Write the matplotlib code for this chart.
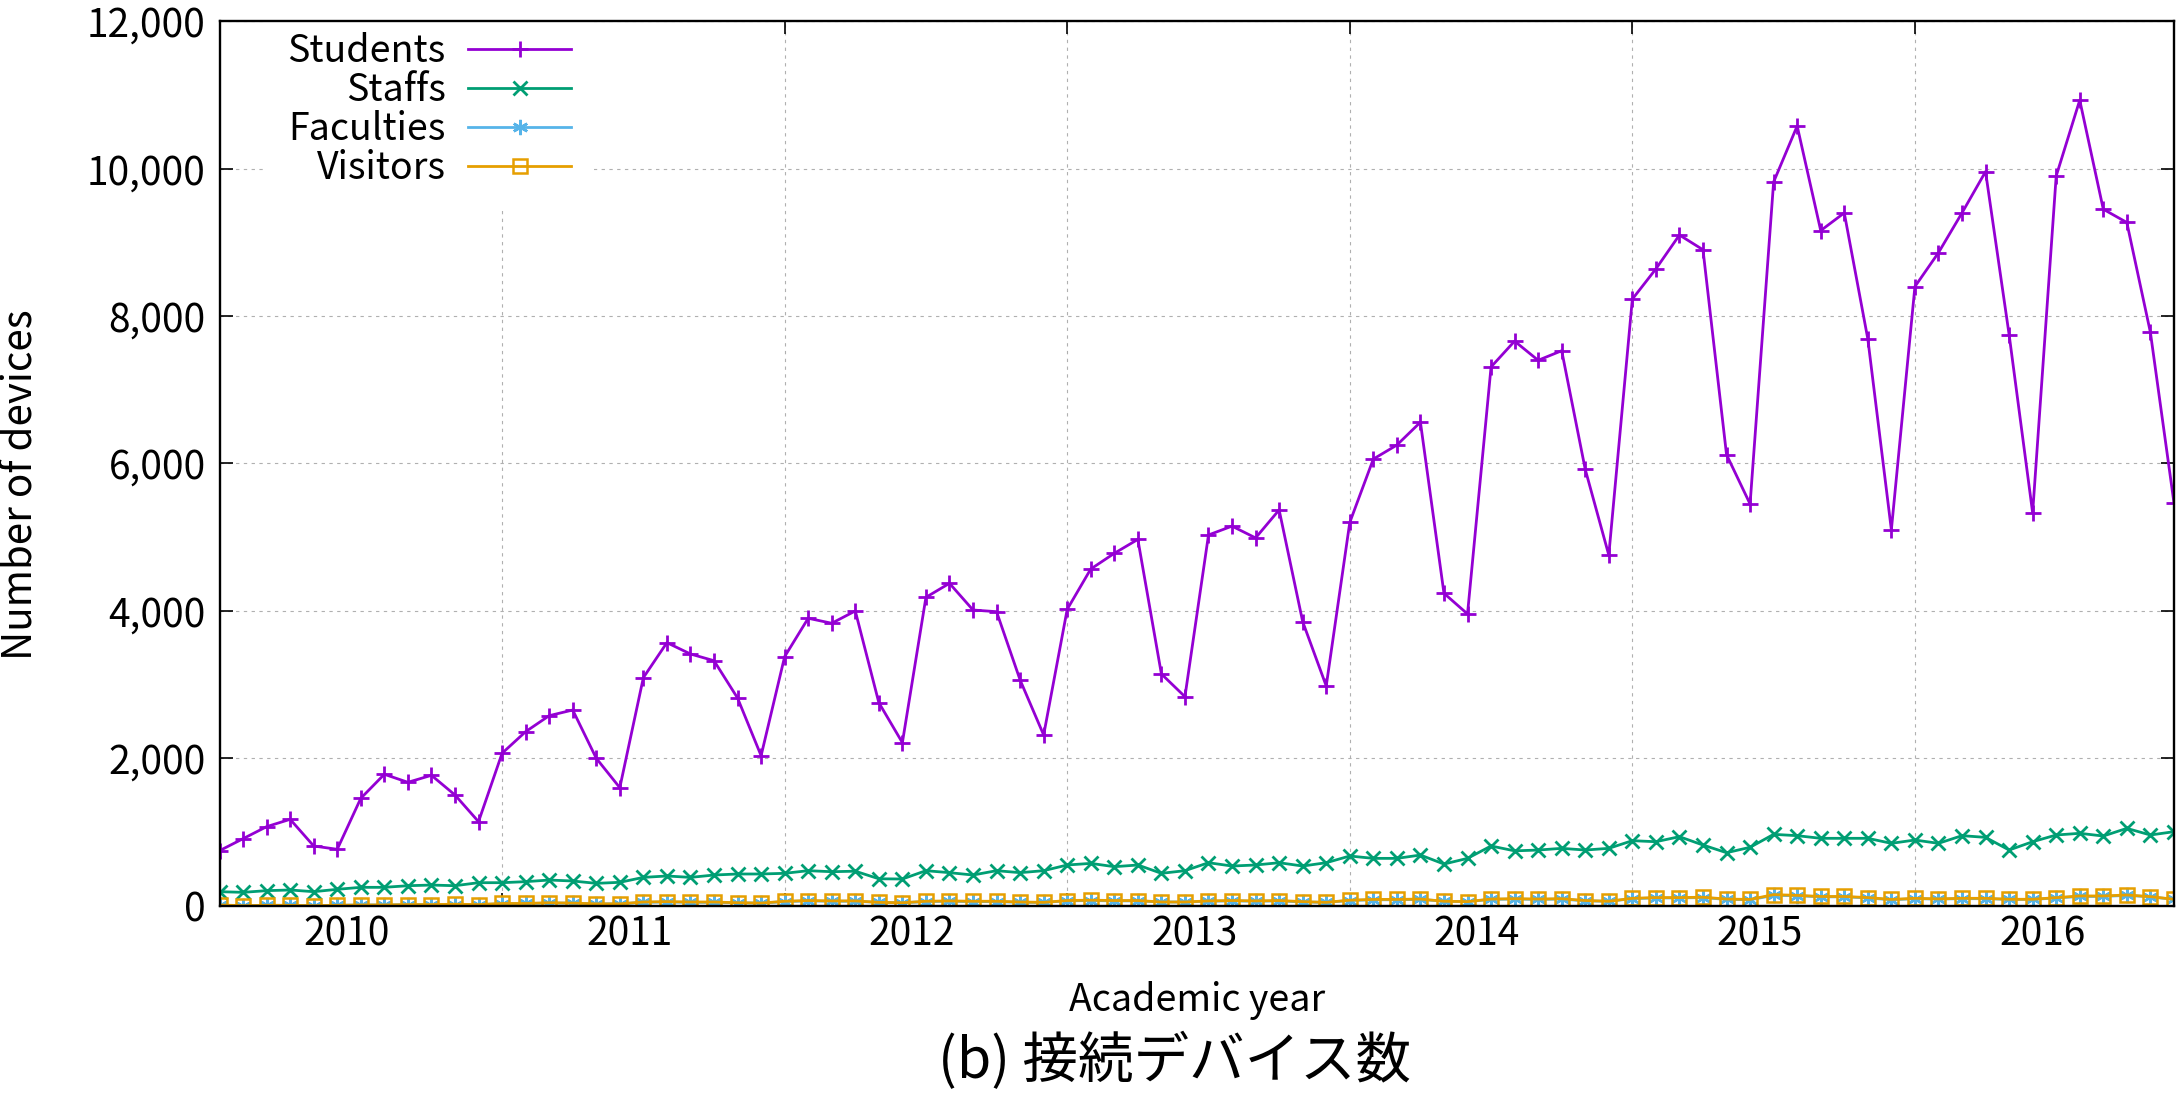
import matplotlib
matplotlib.use("Agg")
import matplotlib.pyplot as plt
import numpy as np
from matplotlib.ticker import FixedLocator, FixedFormatter, NullFormatter, StrMethodFormatter

plt.rcParams['font.family'] = ['Noto Sans CJK JP', 'DejaVu Sans']

# monthly values, 84 months (academic years 2010-2016)
years = ['2010', '2011', '2012', '2013', '2014', '2015', '2016']

students = [746, 909, 1072, 1172, 810, 765, 1457, 1783, 1674, 1769, 1502, 1140,
            2068, 2361, 2578, 2655, 2000, 1601, 3094, 3569, 3415, 3324, 2818, 2035,
            3379, 3900, 3832, 3999, 2755, 2212, 4184, 4374, 4012, 3989, 3062, 2316,
            4021, 4568, 4781, 4970, 3144, 2836, 5030, 5150, 4990, 5370, 3854, 2981,
            5200, 6060, 6250, 6560, 4239, 3958, 7310, 7660, 7400, 7530, 5920, 4757,
            8230, 8640, 9100, 8900, 6120, 5450, 9820, 10580, 9160, 9400, 7690, 5100,
            8400, 8860, 9400, 9960, 7750, 5330, 9900, 10930, 9450, 9270, 7780, 5470]

staffs = [190, 181, 204, 213, 190, 222, 249, 249, 271, 280, 271, 312,
          312, 326, 348, 335, 303, 317, 384, 403, 384, 416, 430, 430,
          439, 475, 461, 468, 365, 362, 475, 448, 416, 475, 448, 475,
          552, 574, 529, 552, 439, 475, 583, 538, 552, 583, 538, 583,
          674, 642, 642, 687, 565, 642, 810, 744, 755, 778, 755, 778,
          882, 868, 936, 823, 719, 792, 968, 950, 914, 914, 914, 846,
          891, 846, 950, 927, 755, 868, 959, 982, 945, 1049, 959, 1004]

faculties = [5, 0, 5, 5, 0, 5, 10, 10, 15, 15, 15, 15,
             25, 30, 35, 35, 25, 25, 45, 50, 45, 45, 40, 35,
             55, 65, 60, 60, 45, 40, 55, 60, 55, 55, 45, 45,
             65, 70, 65, 65, 50, 50, 60, 65, 60, 65, 50, 45,
             70, 80, 80, 85, 60, 55, 85, 90, 85, 90, 65, 60,
             95, 105, 105, 110, 85, 80, 140, 135, 120, 120, 105, 80,
             95, 90, 95, 95, 85, 85, 105, 125, 125, 140, 120, 85]

visitors = [10, 0, 5, 5, 0, 5, 10, 10, 15, 15, 20, 15,
            30, 30, 40, 35, 25, 25, 50, 55, 50, 50, 40, 35,
            60, 70, 65, 65, 45, 40, 60, 65, 60, 60, 50, 45,
            70, 75, 70, 70, 50, 50, 65, 70, 65, 70, 55, 45,
            75, 85, 85, 90, 60, 55, 90, 95, 90, 95, 70, 60,
            100, 110, 110, 115, 90, 85, 150, 140, 125, 125, 110, 85,
            100, 92, 100, 100, 87, 87, 109, 132, 132, 145, 123, 87]

months = np.arange(len(students))
year_pos = 5.4 + 12 * np.arange(len(years))

fig = plt.figure(figsize=(21.82, 10.97), dpi=100)
ax = fig.add_axes([0.1006, 0.1744, 0.8957, 0.8062])

ax.plot(months, students, color='#9400d3', lw=2, marker='+', ms=11, mew=2, label='Students')
ax.plot(months, staffs, color='#009e73', lw=2, marker='x', ms=10, mew=2, label='Staffs')
ax.plot(months, faculties, color='#56b4e9', lw=2, marker=(6, 2, 0), ms=11, mew=1.8, label='Faculties')
ax.plot(months, visitors, color='#e69f00', lw=2, marker='s', ms=10, mfc='none', mew=1.8, label='Visitors')

ax.set_xlim(0, len(students) - 1)
ax.set_ylim(0, 12000)
ax.set_yticks(range(0, 12001, 2000))
ax.yaxis.set_major_formatter(StrMethodFormatter('{x:,.0f}'))

ax.xaxis.set_major_locator(FixedLocator([12, 24, 36, 48, 60, 72]))
ax.xaxis.set_major_formatter(NullFormatter())
ax.xaxis.set_minor_locator(FixedLocator(year_pos))
ax.xaxis.set_minor_formatter(FixedFormatter(years))

ax.tick_params(which='major', direction='in', length=9.5, width=1.2,
               top=True, right=True, labelsize=28)
ax.tick_params(axis='y', pad=10)
ax.tick_params(axis='x', which='minor', length=0, pad=6, labelsize=28)

ax.grid(True, which='major', color='#b0b0b0', lw=0.8, linestyle=(0, (3, 4)))
ax.set_axisbelow(True)
for s in ax.spines.values():
    s.set_linewidth(1.7)

leg = ax.legend(loc='upper right', bbox_to_anchor=(0.1916, 1.0133), frameon=True,
                fancybox=False, edgecolor='none', framealpha=1, markerfirst=False,
                fontsize=27, handlelength=2.75, handletextpad=0.6, borderpad=0.6,
                labelspacing=0, borderaxespad=0)
for col in leg._legend_handle_box.get_children():
    col.align = 'right'
leg.set_zorder(2.4)

fig.text(20 / 2182, 1 - 485 / 1097, 'Number of devices', rotation=90,
         ha='center', va='center', fontsize=29)
fig.text(1197 / 2182, 1 - 1000 / 1097, 'Academic year', ha='center', va='center', fontsize=27)
fig.text(1175 / 2182, 1 - 1062 / 1097, '(b) 接続デバイス数', ha='center', va='center', fontsize=40)

fig.savefig('out.png', dpi=100)
